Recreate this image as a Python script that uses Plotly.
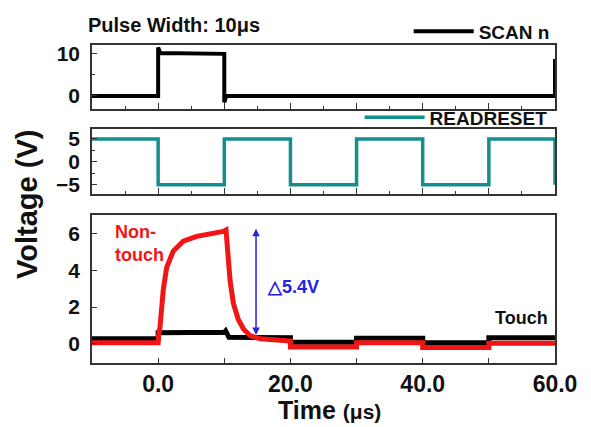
import plotly.graph_objects as go

# ---------------- data ----------------
scan_t = [-10, 0, 0, 0.3, 10, 10, 10.3, 60, 60]
scan_v = [0.0, 0.0, 11.5, 10.2, 10.0, -1.5, 0.0, 0.0, 8.8]

rr_t = [-10, 0, 0, 10, 10, 20, 20, 30, 30, 40, 40, 50, 50, 60, 60]
rr_v = [5, 5, -5, -5, 5, 5, -5, -5, 5, 5, -5, -5, 5, 5, -5]

touch_t = [-10, 0, 0, 10, 10.2, 10.7, 20, 20, 30, 30, 40, 40, 50, 50, 60]
touch_v = [0.27, 0.27, 0.6, 0.62, 0.7, 0.35, 0.33, 0.08, 0.08, 0.3, 0.3, 0.06, 0.06, 0.32, 0.32]

nontouch_t = [-10, 0, 0.05, 0.28, 0.78, 1.29, 2.29, 3.8, 5.83, 7.84, 9.85, 10.26,
              10.6, 10.87, 11.37, 12.1, 12.9, 13.9, 15.4, 18.4, 20, 20, 30, 30,
              40, 40, 50, 50, 60]
nontouch_v = [0.05, 0.05, 0.4, 0.9, 2.95, 4.16, 5.05, 5.59, 5.85, 5.97, 6.12, 6.2,
              4.7, 3.46, 2.21, 1.33, 0.8, 0.44, 0.27, 0.18, 0.15, -0.18, -0.18, 0.05,
              0.05, -0.2, -0.2, 0.02, 0.02]

x_range = [-10, 60]
y1_range = [-3.0, 12.1]
y2_range = [-7.0, 7.1]
y3_range = [-1.05, 7.0]

FONT = "Arial, Liberation Sans, sans-serif"
TEAL = "#13908e"
RED = "#f21515"
BLUE = "#2323e0"

fig = go.Figure()

fig.add_trace(go.Scatter(x=scan_t, y=scan_v, mode="lines", name="SCAN n",
                         line=dict(color="black", width=4), xaxis="x", yaxis="y",
                         legend="legend"))
fig.add_trace(go.Scatter(x=rr_t, y=rr_v, mode="lines", name="READRESET",
                         line=dict(color=TEAL, width=3.5), xaxis="x2", yaxis="y2",
                         legend="legend2"))
fig.add_trace(go.Scatter(x=touch_t, y=touch_v, mode="lines", name="Touch",
                         line=dict(color="black", width=5), xaxis="x3", yaxis="y3",
                         showlegend=False))
fig.add_trace(go.Scatter(x=nontouch_t, y=nontouch_v, mode="lines", name="Non-touch",
                         line=dict(color=RED, width=5), xaxis="x3", yaxis="y3",
                         showlegend=False))

axis_common = dict(showline=True, linecolor="#333", linewidth=1.5, mirror=True,
                   ticks="inside", tickcolor="#333", showgrid=False, zeroline=False,
                   tickfont=dict(family=FONT, size=21, color="#111", weight="bold"))

top_x = dict(axis_common, range=x_range, dtick=10, tick0=0, ticklen=6,
             showticklabels=False,
             minor=dict(dtick=5, ticklen=3, ticks="inside", tickcolor="#333"))

fig.update_layout(
    width=591, height=427,
    margin=dict(l=92, r=36, t=38, b=64),
    plot_bgcolor="white", paper_bgcolor="white",
    xaxis=dict(top_x, domain=[0, 1], anchor="y"),
    xaxis2=dict(top_x, domain=[0, 1], anchor="y2", matches="x"),
    xaxis3=dict(axis_common, domain=[0, 1], anchor="y3", range=x_range, matches="x",
                dtick=20, tick0=0, tickformat=".1f", ticklen=5,
                ticklabelstandoff=0,
                tickfont=dict(family=FONT, size=23, color="#111", weight="bold"),
                minor=dict(dtick=10, ticklen=5, ticks="inside", tickcolor="#333")),
    yaxis=dict(axis_common, domain=[0.80, 1.0], anchor="x", range=y1_range,
               tickvals=[0, 10], ticklen=5, ticklabelstandoff=6,
               minor=dict(tickvals=[5], ticklen=3, ticks="inside", tickcolor="#333")),
    yaxis2=dict(axis_common, domain=[0.532, 0.735], anchor="x2", range=y2_range,
                tickvals=[-5, 0, 5], ticklen=5, ticklabelstandoff=6,
                minor=dict(tickvals=[-2.5, 2.5], ticklen=3, ticks="inside", tickcolor="#333")),
    yaxis3=dict(axis_common, domain=[0.0, 0.4646], anchor="x3", range=y3_range,
                tickvals=[0, 2, 4, 6], ticklen=5, ticklabelstandoff=6),
    legend=dict(x=0.684, y=1.043, xanchor="left", yanchor="middle",
                bgcolor="rgba(0,0,0,0)", itemwidth=60,
                font=dict(family=FONT, size=19, color="#111", weight="bold")),
    legend2=dict(x=0.578, y=0.772, xanchor="left", yanchor="middle",
                 bgcolor="rgba(0,0,0,0)", itemwidth=60,
                 font=dict(family=FONT, size=19, color="#111", weight="bold")),
    showlegend=True,
)

annotations = [
    dict(text="<b>Pulse Width: 10μs</b>", x=0.177, y=1.0615, xref="paper", yref="paper",
         showarrow=False, font=dict(family=FONT, size=20, color="#111"),
         xanchor="center", yanchor="middle"),
    dict(text="<b>Voltage (V)</b>", x=-0.142, y=0.498, xref="paper", yref="paper",
         textangle=-90, showarrow=False, font=dict(family=FONT, size=29, color="#111"),
         xanchor="center", yanchor="middle"),
    dict(text="<b>Time <span style='font-size:21px'>(μs)</span></b>", x=0.512, y=-0.197,
         xref="paper", yref="paper", showarrow=False,
         font=dict(family=FONT, size=25, color="#111"), xanchor="center", yanchor="bottom"),
    dict(text="<b>Non-<br>touch</b>", x=-6.8, y=5.44, xref="x3", yref="y3", showarrow=False,
         font=dict(family=FONT, size=18, color=RED), xanchor="left", yanchor="middle",
         align="left"),
    dict(text="<b>△5.4V</b>", x=16.2, y=3.1, xref="x3", yref="y3", showarrow=False,
         font=dict(family=FONT, size=18, color=BLUE), xanchor="left", yanchor="middle"),
    dict(text="<b>Touch</b>", x=59.2, y=1.4, xref="x3", yref="y3", showarrow=False,
         font=dict(family=FONT, size=18, color="#111"), xanchor="right", yanchor="middle"),
    # double-headed arrow: delta between non-touch peak and touch level
    dict(text="", x=14.8, y=6.26, ax=14.8, ay=0.4, xref="x3", yref="y3",
         axref="x3", ayref="y3", showarrow=True, arrowhead=2, arrowside="end+start",
         arrowsize=1, arrowwidth=1.5, arrowcolor=BLUE),
]
fig.update_layout(annotations=annotations)

fig.write_html("out.html")
